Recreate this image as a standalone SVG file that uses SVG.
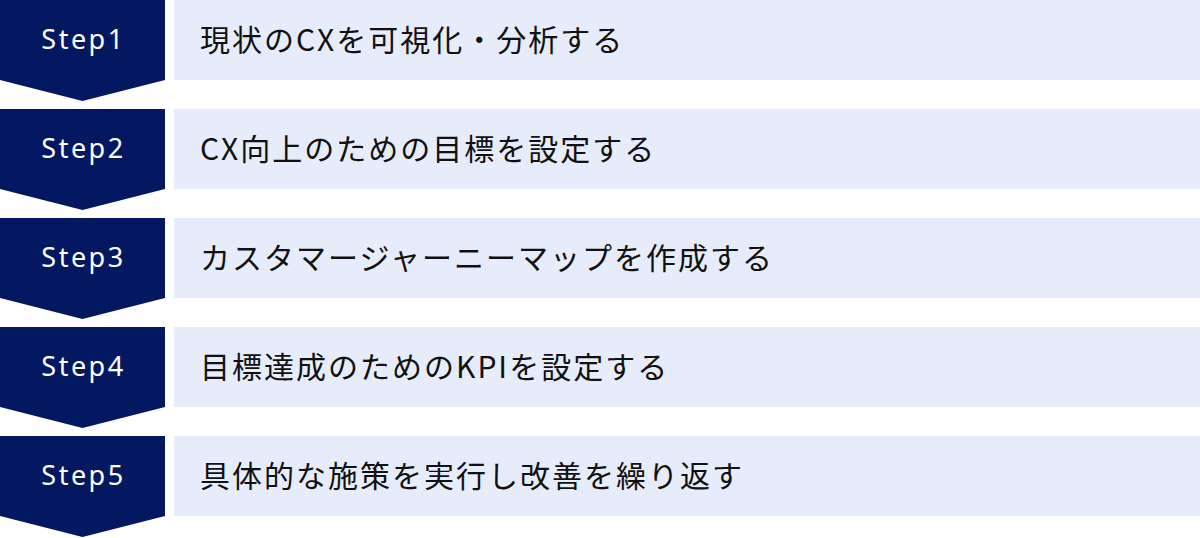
<svg xmlns="http://www.w3.org/2000/svg" width="1200" height="538" viewBox="0 0 1200 538">
<style>
.chev{fill:#041862}
.box{fill:#E6ECF9}
.lbl{font-family:"Noto Sans","Noto Sans CJK JP",sans-serif;font-size:27px;fill:#ffffff;letter-spacing:2.5px;text-anchor:middle;dominant-baseline:central}
.txt{font-family:"Noto Sans CJK JP","Noto Sans",sans-serif;font-size:30px;fill:#111111;letter-spacing:2px;dominant-baseline:central}
</style>
<rect width="1200" height="538" fill="#ffffff"/>
<g id="step1">
<path class="chev" d="M0 0H165V80L82.5 101L0 80Z"/>
<text class="lbl" x="83.5" y="38.5">Step1</text>
<rect class="box" x="174" y="0" width="1026" height="80"/>
<text class="txt" x="200" y="38">現状のCXを可視化・分析する</text>
</g>
<g id="step2">
<path class="chev" d="M0 109H165V189L82.5 210L0 189Z"/>
<text class="lbl" x="83.5" y="147.5">Step2</text>
<rect class="box" x="174" y="109" width="1026" height="80"/>
<text class="txt" x="200" y="147">CX向上のための目標を設定する</text>
</g>
<g id="step3">
<path class="chev" d="M0 218H165V298L82.5 319L0 298Z"/>
<text class="lbl" x="83.5" y="256.5">Step3</text>
<rect class="box" x="174" y="218" width="1026" height="80"/>
<text class="txt" x="200" y="256">カスタマージャーニーマップを作成する</text>
</g>
<g id="step4">
<path class="chev" d="M0 327H165V407L82.5 428L0 407Z"/>
<text class="lbl" x="83.5" y="365.5">Step4</text>
<rect class="box" x="174" y="327" width="1026" height="80"/>
<text class="txt" x="200" y="365">目標達成のためのKPIを設定する</text>
</g>
<g id="step5">
<path class="chev" d="M0 436H165V516L82.5 537L0 516Z"/>
<text class="lbl" x="83.5" y="474.5">Step5</text>
<rect class="box" x="174" y="436" width="1026" height="80"/>
<text class="txt" x="200" y="474">具体的な施策を実行し改善を繰り返す</text>
</g>
<g id="connectors"/>
</svg>
